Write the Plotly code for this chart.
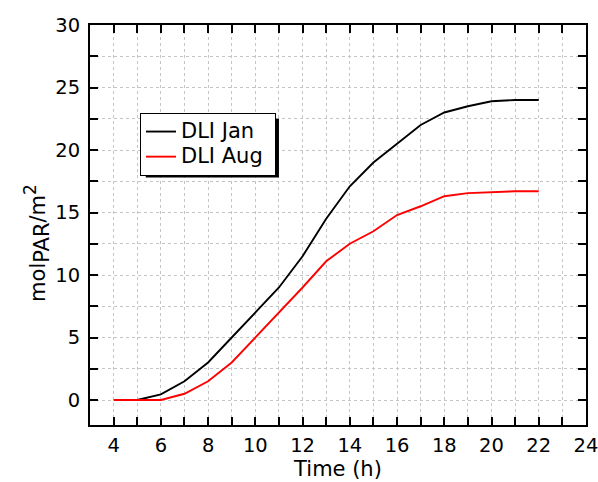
import plotly.graph_objects as go

# Hours of the day
hours_jan = [5, 6, 7, 8, 9, 10, 11, 12, 13, 14, 15, 16, 17, 18, 19, 20, 21, 22]
hours_aug = [4, 5, 6, 7, 8, 9, 10, 11, 12, 13, 14, 15, 16, 17, 18, 19, 20, 21, 22]

# Cumulative daily light integral (mol_PAR / m^2)
dli_jan = [0, 0.45, 1.5, 3.0, 5.0, 7.0, 9.0, 11.5, 14.5, 17.1, 19.0, 20.5, 22.0, 23.0, 23.5, 23.9, 24.0, 24.0]
dli_aug = [0, 0, 0, 0.5, 1.5, 3.0, 5.0, 7.0, 9.0, 11.1, 12.5, 13.5, 14.8, 15.5, 16.3, 16.55, 16.65, 16.7, 16.7]

series_names = ["DLI Jan", "DLI Aug"]

x_ticks = list(range(4, 25, 2))
y_ticks = list(range(0, 31, 5))

FONT = "DejaVu Sans, Liberation Sans, Arial, sans-serif"


def legend_label(name):
    # larger glyphs than the row spacing implies, plus a little right padding
    return f'<span style="font-size:21px">{name}&nbsp;</span>'


fig = go.Figure()
fig.add_trace(go.Scatter(x=hours_jan, y=dli_jan, mode="lines", name=legend_label(series_names[0]),
                         line=dict(color="black", width=1.9)))
fig.add_trace(go.Scatter(x=hours_aug, y=dli_aug, mode="lines", name=legend_label(series_names[1]),
                         line=dict(color="#ff0000", width=1.9)))

# drop shadow behind the legend box
fig.add_shape(type="rect", xref="x", yref="y", x0=5.36, x1=11.0, y0=17.8, y1=22.5,
              fillcolor="black", line=dict(width=0), layer="above")

axis_common = dict(
    showline=True, linecolor="black", linewidth=2, mirror="allticks",
    ticks="inside", ticklen=8, tickwidth=1.5, tickcolor="black",
    showgrid=False, zeroline=False, automargin=False, ticklabeloverflow="allow",
    tickfont=dict(family=FONT, size=19.5, color="black"),
)

fig.update_xaxes(
    range=[3, 24], tickvals=x_ticks,
    minor=dict(dtick=1, tick0=3, ticks="inside", ticklen=8, tickwidth=1.5, tickcolor="black",
               showgrid=True, gridcolor="#c4c4c4", griddash="dot", gridwidth=1),
    title=dict(text="Time (h)", font=dict(family=FONT, size=21, color="black"), standoff=5),
    ticklabelstandoff=2,
    **axis_common,
)
fig.update_yaxes(
    range=[-2, 30], tickvals=y_ticks,
    minor=dict(dtick=2.5, tick0=0, ticks="inside", ticklen=8, tickwidth=1.5, tickcolor="black",
               showgrid=True, gridcolor="#c4c4c4", griddash="dot", gridwidth=1),
    ticklabelstandoff=4,
    **axis_common,
)

# y-axis title with a full-size PAR subscript
fig.add_annotation(
    text='mol<sub><span style="font-size:21px">PAR</span></sub>/m<sup><span style="font-size:17px">2</span></sup>',
    textangle=-90, xref="paper", yref="paper", x=-0.107, y=0.455,
    xanchor="center", yanchor="middle", showarrow=False,
    font=dict(family=FONT, size=21, color="black"),
)

fig.update_layout(
    width=598, height=482,
    margin=dict(l=90, r=12, t=25, b=57),
    paper_bgcolor="white", plot_bgcolor="white",
    showlegend=True,
    legend=dict(x=0.1008, y=0.78, xanchor="left", yanchor="top",
                bgcolor="white", bordercolor="black", borderwidth=1,
                font=dict(family=FONT, size=17, color="black"),
                itemwidth=30, tracegroupgap=0),
)

fig.write_html("out.html")
